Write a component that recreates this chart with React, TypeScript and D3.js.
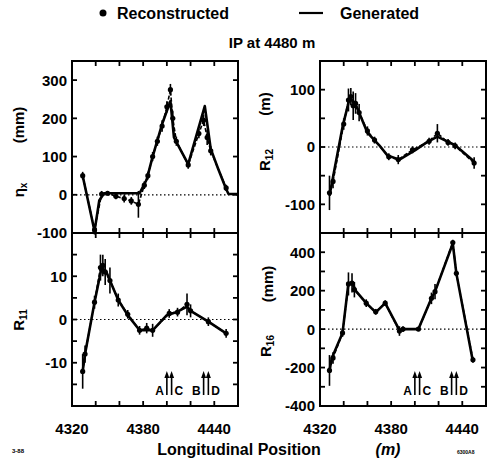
import * as d3 from "d3";
import { useEffect, useRef } from "react";

// x axis (m)
const xTickLabels = [4320, 4380, 4440];
const xTickMarks = [4340, 4360, 4380, 4400, 4420, 4440];

// monitor markers in the lower panels
const markerNames = ["A", "C", "B", "D"];
const markerPos = [4400, 4404, 4431, 4435];

// eta_x (mm): generated curve and reconstructed points [x, y, error]
const etaGen: [number, number][] = [
  [4329, 50], [4339, -95], [4343, -15], [4347, 4], [4377, 4], [4383, 40], [4388, 100],
  [4396, 185], [4403, 245], [4406, 150], [4412, 115], [4418, 80], [4432, 232], [4437, 120],
  [4443, 70], [4450, 15], [4452, 2], [4460, 2],
];
const etaRec: [number, number, number][] = [
  [4329, 50, 10], [4339, -92, 12], [4345, 2, 8], [4350, 4, 6], [4357, -4, 8], [4364, -10, 10],
  [4370, -16, 10], [4376, -25, 35], [4381, 25, 10], [4384, 50, 10], [4388, 100, 12],
  [4392, 140, 12], [4396, 180, 15], [4400, 230, 15], [4403, 275, 15], [4405, 200, 20],
  [4408, 140, 12], [4418, 78, 10], [4427, 160, 12], [4431, 195, 15], [4434, 150, 20],
  [4437, 115, 12], [4450, 18, 8],
];

// R12 (m)
const r12Gen: [number, number][] = [
  [4328, -85], [4339, 35], [4345, 85], [4349, 78], [4352, 65], [4360, 25], [4370, 3],
  [4377, -15], [4387, -22], [4400, -6], [4410, 8], [4419, 18], [4434, 3], [4451, -27],
];
const r12Rec: [number, number, number][] = [
  [4328, -80, 30], [4331, -60, 12], [4340, 40, 10], [4344, 82, 20], [4346, 88, 15],
  [4348, 72, 25], [4350, 76, 18], [4353, 60, 15], [4360, 28, 8], [4366, 12, 6],
  [4378, -17, 6], [4386, -22, 8], [4398, -5, 6], [4412, 10, 6], [4419, 24, 16],
  [4428, 8, 6], [4434, 2, 6], [4450, -28, 10],
];

// R11
const r11Gen: [number, number][] = [
  [4329, -12], [4331, -8], [4339, 4], [4345, 12], [4349, 11], [4352, 9], [4359, 4.5],
  [4367, 1], [4377, -2.5], [4388, -2.5], [4400, 1], [4409, 1.8], [4417, 3], [4420, 2],
  [4435, -0.5], [4450, -3.2],
];
const r11Rec: [number, number, number][] = [
  [4329, -12, 4], [4331, -8, 2], [4339, 4, 1.5], [4344, 12, 3], [4346, 12.5, 2.5],
  [4348, 11, 3], [4352, 9, 3], [4359, 4.5, 1.5], [4367, 1.2, 1], [4377, -2.5, 1],
  [4383, -2, 1.2], [4388, -2.5, 1.5], [4402, 1.4, 1], [4409, 1.7, 1], [4417, 3.5, 2.5],
  [4420, 2, 1.5], [4435, -0.5, 1], [4450, -3.2, 1],
];

// R16 (mm)
const r16Gen: [number, number][] = [
  [4328, -215], [4330, -150], [4339, -20], [4344, 240], [4348, 230], [4350, 200],
  [4359, 135], [4367, 87], [4375, 135], [4387, -5], [4390, 0], [4403, 0], [4414, 160],
  [4417, 195], [4432, 445], [4435, 290], [4449, -170],
];
const r16Rec: [number, number, number][] = [
  [4328, -215, 80], [4331, -150, 30], [4339, -20, 20], [4344, 235, 60], [4347, 240, 50],
  [4349, 205, 40], [4359, 135, 20], [4367, 90, 15], [4375, 135, 15], [4387, -10, 25],
  [4390, 0, 15], [4403, 0, 10], [4414, 160, 30], [4417, 195, 40], [4432, 450, 15],
  [4435, 290, 15], [4449, -160, 15],
];

const font = "'Liberation Sans', Arial, sans-serif";

const panels = [
  { gen: etaGen, rec: etaRec, domain: [-100, 350], labels: [-100, 0, 100, 200, 300], minor: [], col: 0, row: 0, markers: false },
  { gen: r12Gen, rec: r12Rec, domain: [-150, 150], labels: [-100, 0, 100], minor: [-150, -50, 50, 150], col: 1, row: 0, markers: false },
  { gen: r11Gen, rec: r11Rec, domain: [-20, 20], labels: [-10, 0, 10], minor: [-15, -5, 5, 15], col: 0, row: 1, markers: true },
  { gen: r16Gen, rec: r16Rec, domain: [-400, 500], labels: [-400, -200, 0, 200, 400], minor: [-300, -100, 100, 300], col: 1, row: 1, markers: true },
];

export default function App() {
  const ref = useRef<SVGSVGElement>(null);

  useEffect(() => {
    const svg = d3.select(ref.current);
    svg.selectAll("*").remove();

    const colLeft = [72, 320];
    const colWidth = 166;
    const rowTop = [61, 233];
    const rowBottom = [233, 406];

    panels.forEach((p) => {
      const x = d3.scaleLinear().domain([4320, 4460]).range([colLeft[p.col], colLeft[p.col] + colWidth]);
      const y = d3.scaleLinear().domain(p.domain).range([rowBottom[p.row], rowTop[p.row]]);
      const g = svg.append("g");
      const [x0, x1] = x.range();
      const [yb, yt] = y.range();

      // zero line
      g.append("line")
        .attr("x1", x0).attr("x2", x1)
        .attr("y1", y(0)).attr("y2", y(0))
        .attr("stroke", "#000").attr("stroke-width", 1.2)
        .attr("stroke-dasharray", "1.5,2.5");

      // generated (solid)
      const line = d3.line<number[]>().x((d) => x(d[0])).y((d) => y(d[1]));
      g.append("path")
        .attr("d", line(p.gen))
        .attr("fill", "none").attr("stroke", "#000")
        .attr("stroke-width", 2.6).attr("stroke-linejoin", "round");

      // reconstructed (dashed + dots + error bars)
      g.append("path")
        .attr("d", line(p.rec))
        .attr("fill", "none").attr("stroke", "#000")
        .attr("stroke-width", 1.6).attr("stroke-dasharray", "4,2");
      g.selectAll(".err").data(p.rec).join("line")
        .attr("x1", (d) => x(d[0])).attr("x2", (d) => x(d[0]))
        .attr("y1", (d) => y(d[1] - d[2])).attr("y2", (d) => y(d[1] + d[2]))
        .attr("stroke", "#000").attr("stroke-width", 1.6);
      g.selectAll(".dot").data(p.rec).join("circle")
        .attr("cx", (d) => x(d[0])).attr("cy", (d) => y(d[1]))
        .attr("r", 2.6).attr("fill", "#000");

      // frame
      g.append("rect")
        .attr("x", x0).attr("y", yt)
        .attr("width", x1 - x0).attr("height", yb - yt)
        .attr("fill", "none").attr("stroke", "#000").attr("stroke-width", 2);

      // inward ticks
      xTickMarks.forEach((t) => {
        g.append("line").attr("x1", x(t)).attr("x2", x(t)).attr("y1", yt).attr("y2", yt + 5)
          .attr("stroke", "#000").attr("stroke-width", 1.8);
        g.append("line").attr("x1", x(t)).attr("x2", x(t)).attr("y1", yb).attr("y2", yb - 5)
          .attr("stroke", "#000").attr("stroke-width", 1.8);
      });
      [...p.labels, ...p.minor].forEach((t) => {
        if (y(t) <= yt + 1 || y(t) >= yb - 1) return;
        g.append("line").attr("x1", x0).attr("x2", x0 + 5).attr("y1", y(t)).attr("y2", y(t))
          .attr("stroke", "#000").attr("stroke-width", 1.8);
        g.append("line").attr("x1", x1).attr("x2", x1 - 5).attr("y1", y(t)).attr("y2", y(t))
          .attr("stroke", "#000").attr("stroke-width", 1.8);
      });

      // y tick labels
      g.selectAll(".yl").data(p.labels).join("text")
        .attr("x", x0 - 5).attr("y", (d) => y(d)).attr("dy", "0.36em")
        .attr("text-anchor", "end")
        .attr("font-family", font).attr("font-weight", "bold").attr("font-size", 15)
        .text((d) => d3.format("d")(d).replace("−", "-"));

      // x tick labels on the lower row
      if (p.row === 1) {
        g.selectAll(".xl").data(xTickLabels).join("text")
          .attr("x", (d) => x(d)).attr("y", 434)
          .attr("text-anchor", "middle")
          .attr("font-family", font).attr("font-weight", "bold").attr("font-size", 15)
          .text((d) => d);
      }

      // monitor arrows
      if (p.markers) {
        markerPos.forEach((m, i) => {
          const ax = x(m);
          g.append("line").attr("x1", ax).attr("x2", ax).attr("y1", 395).attr("y2", 376)
            .attr("stroke", "#000").attr("stroke-width", 1.6);
          g.append("path")
            .attr("d", `M${ax - 2.5},${378} L${ax},${371} L${ax + 2.5},${378} Z`)
            .attr("fill", "#000");
          const left = i % 2 === 0;
          g.append("text")
            .attr("x", ax + (left ? -3 : 3)).attr("y", 395)
            .attr("text-anchor", left ? "end" : "start")
            .attr("font-family", font).attr("font-weight", "bold").attr("font-size", 12)
            .text(markerNames[i]);
        });
      }
    });

    // y axis titles
    const title = (cx: number, cy: number, main: string, sub: string, size = 15) => {
      const t = svg.append("text")
        .attr("transform", `translate(${cx},${cy}) rotate(-90)`)
        .attr("text-anchor", "middle").attr("dy", "0.35em")
        .attr("font-family", font).attr("font-weight", "bold").attr("font-size", size);
      t.append("tspan").text(main);
      t.append("tspan").attr("font-size", 10).attr("dy", 3).text(sub);
    };
    title(19, 190, "η", "x");
    title(19, 320, "R", "11");
    title(265, 160, "R", "12");
    title(266, 346, "R", "16");
    const unit = (cx: number, cy: number, s: string) =>
      svg.append("text")
        .attr("transform", `translate(${cx},${cy}) rotate(-90)`)
        .attr("text-anchor", "middle").attr("dy", "0.35em")
        .attr("font-family", font).attr("font-weight", "bold").attr("font-size", 15)
        .text(s);
    unit(19, 125, "(mm)");
    unit(265, 104, "(m)");
    unit(268, 284, "(mm)");

    // legend and header
    svg.append("circle").attr("cx", 103).attr("cy", 13).attr("r", 3.5).attr("fill", "#000");
    svg.append("text").attr("x", 117).attr("y", 19)
      .attr("font-family", font).attr("font-weight", "bold").attr("font-size", 16)
      .text("Reconstructed");
    svg.append("line").attr("x1", 299).attr("x2", 323).attr("y1", 13).attr("y2", 13)
      .attr("stroke", "#000").attr("stroke-width", 2.2);
    svg.append("text").attr("x", 340).attr("y", 19)
      .attr("font-family", font).attr("font-weight", "bold").attr("font-size", 16)
      .text("Generated");
    svg.append("text").attr("x", 272).attr("y", 48).attr("text-anchor", "middle")
      .attr("font-family", font).attr("font-weight", "bold").attr("font-size", 15)
      .text("IP at 4480 m");

    // x axis title
    svg.append("text").attr("x", 239).attr("y", 455).attr("text-anchor", "middle")
      .attr("font-family", font).attr("font-weight", "bold").attr("font-size", 16)
      .text("Longitudinal Position");
    svg.append("text").attr("x", 388).attr("y", 455).attr("text-anchor", "middle")
      .attr("font-family", font).attr("font-weight", "bold").attr("font-style", "italic").attr("font-size", 16)
      .text("(m)");
    svg.append("text").attr("x", 12).attr("y", 453)
      .attr("font-family", font).attr("font-weight", "bold").attr("font-size", 6)
      .text("3-88");
    svg.append("text").attr("x", 457).attr("y", 454)
      .attr("font-family", font).attr("font-weight", "bold").attr("font-size", 5)
      .text("6300A8");
  }, []);

  return (
    <svg
      ref={ref}
      width={488}
      height={458}
      style={{ position: "absolute", left: 0, top: 0, background: "#fff" }}
    />
  );
}
